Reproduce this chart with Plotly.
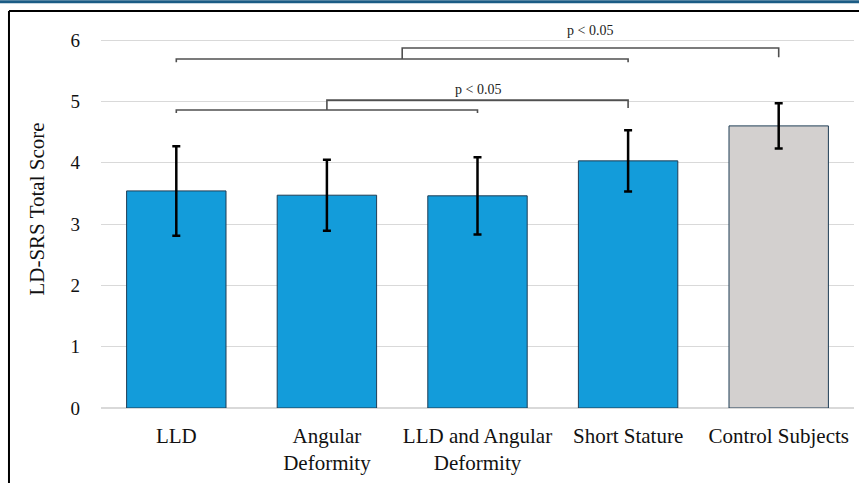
import plotly.graph_objects as go

# ---- data ----
categories = ["LLD", "Angular<br>Deformity", "LLD and Angular<br>Deformity", "Short Stature", "Control Subjects"]
means = [3.54, 3.47, 3.46, 4.03, 4.60]
sds = [0.73, 0.58, 0.63, 0.50, 0.37]
bar_colors = ["#139CDA", "#139CDA", "#139CDA", "#139CDA", "#D3D0CF"]
y_ticks = [0, 1, 2, 3, 4, 5, 6]

# significance brackets: inner group (i, j), its level, outer endpoint k, outer level, label level
sig_inner_groups = [(0, 2), (0, 3)]
sig_inner_levels = [4.86, 5.69]
sig_outer_ends = [3, 4]
sig_outer_levels = [5.02, 5.87]
sig_outer_end_drops = [4.89, 5.72]
sig_tick_drop = 0.05
sig_label_levels = [5.20, 6.15]
sig_labels = ["p < 0.05", "p < 0.05"]

SERIF = "Times New Roman, Liberation Serif, serif"
x_pos = list(range(len(categories)))

fig = go.Figure()
fig.add_trace(go.Bar(
    x=x_pos, y=means, width=0.66,
    marker=dict(color=bar_colors, line=dict(color="#1f3d55", width=1)),
    error_y=dict(type="data", array=sds, visible=True, color="black", thickness=2.5, width=4),
    showlegend=False, hoverinfo="skip",
))

for (i, j), lv, k, olv, drop, tl, lab in zip(sig_inner_groups, sig_inner_levels, sig_outer_ends,
                                           sig_outer_levels, sig_outer_end_drops, sig_label_levels, sig_labels):
    mid = (i + j) / 2
    fig.add_trace(go.Scatter(
        x=[i, i, j, j], y=[lv - sig_tick_drop, lv, lv, lv - sig_tick_drop],
        mode="lines", line=dict(color="#505050", width=1.6), showlegend=False, hoverinfo="skip"))
    fig.add_trace(go.Scatter(
        x=[mid, mid, k, k], y=[lv, olv, olv, drop],
        mode="lines", line=dict(color="#505050", width=1.6), showlegend=False, hoverinfo="skip"))
    fig.add_annotation(x=(mid + k) / 2, y=tl, text=lab, showarrow=False,
                       font=dict(family=SERIF, size=14, color="#222"))

# decorative frame
fig.add_shape(type="line", xref="paper", yref="paper", x0=-0.2, x1=1.1, y0=1.021, y1=1.021,
              line=dict(color="#1B5C85", width=3))
fig.add_shape(type="line", xref="paper", yref="paper", x0=-0.1222, x1=1.1, y0=0.9975, y1=0.9975,
              line=dict(color="black", width=2))
fig.add_shape(type="line", xref="paper", yref="paper", x0=-0.1222, x1=-0.1222, y0=0.9975, y1=-0.2,
              line=dict(color="black", width=2))

fig.update_layout(
    width=859, height=483,
    margin=dict(l=101, r=5, t=10, b=75),
    paper_bgcolor="white", plot_bgcolor="white",
    font=dict(family=SERIF, color="#111"),
    bargap=0.34,
)
fig.update_xaxes(
    range=[-0.5, 4.5], tickvals=x_pos, ticktext=categories,
    tickfont=dict(family=SERIF, size=21, color="#111"), showgrid=False, zeroline=False, showline=False,
    ticks="", ticklabelstandoff=13,
)
fig.update_yaxes(
    range=[0, 6.49], tickvals=y_ticks, tickfont=dict(family=SERIF, size=19, color="#111"),
    showgrid=True, gridcolor="#D9D9D9", gridwidth=1, zeroline=True, zerolinecolor="#D9D9D9",
    showline=False, ticks="", ticklabelstandoff=20,
    title=dict(text="LD-SRS Total Score", font=dict(family=SERIF, size=21, color="#111"), standoff=20),
)

fig.write_html("out.html", config={"displayModeBar": False},
               post_script="document.body.style.margin='0';")
